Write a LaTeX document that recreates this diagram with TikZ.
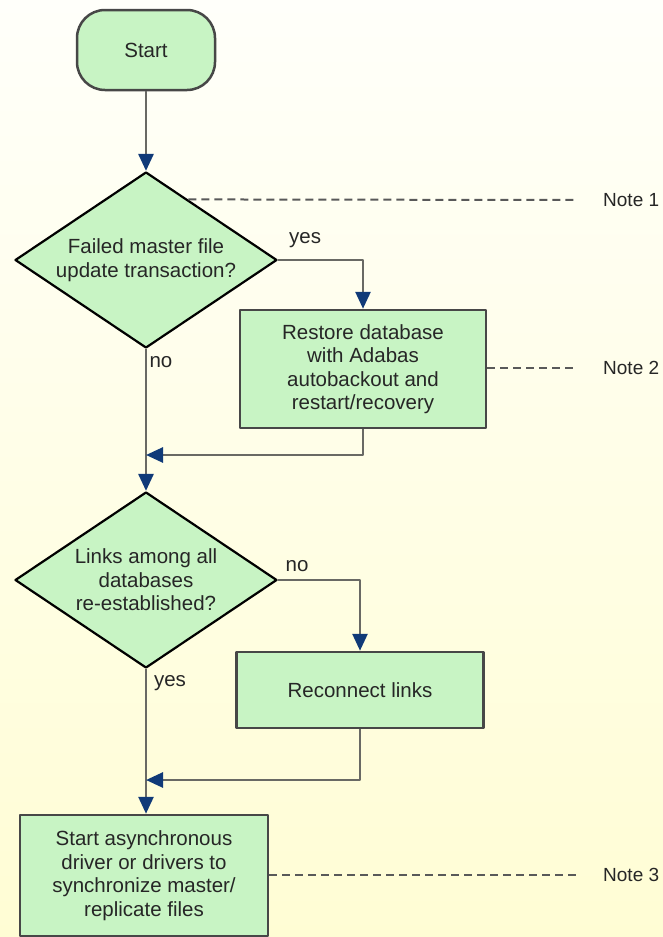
\documentclass[tikz,border=0pt]{standalone}
\usepackage{fontspec}
\setmainfont{Liberation Sans}
\usetikzlibrary{shapes.geometric,arrows.meta,calc}
\definecolor{boxgreen}{RGB}{200,244,196}
\definecolor{tipblue}{RGB}{16,58,120}
\definecolor{linegray}{RGB}{105,105,100}
\definecolor{bgtop}{RGB}{255,255,250}
\definecolor{bgbot}{RGB}{255,253,212}
\begin{document}
\begin{tikzpicture}[x=1pt,y=-1pt,line join=round,font=\fontsize{20.5}{23.5}\selectfont,
	box/.style={draw=black!72,line width=2.5pt,fill=boxgreen,align=center,inner sep=0pt,text=black!85},
	decision/.style={diamond,draw=black,line width=2.2pt,fill=boxgreen,align=center,inner sep=0pt,aspect=1.49,
		minimum width=262pt,minimum height=176pt,text=black!85},
	flow/.style={draw=linegray,line width=2.7pt,-{Triangle[width=15pt,length=17pt,color=tipblue]}},
	notelink/.style={draw=black!65,line width=2pt,dash pattern=on 8pt off 5pt},
	lbl/.style={inner sep=0pt,text=black!85},
	note/.style={inner sep=3pt,anchor=west,text=black!85,font=\fontsize{19}{22}\selectfont}]
	\def\W{663} \def\H{937} \def\xm{146} \def\xn{600}
	\useasboundingbox (0,0) rectangle (\W,\H);
	\shade[top color=bgtop,bottom color=bgbot] (0,0) rectangle (\W,\H);
	% main column
	\node[box,rounded corners=28pt,minimum width=138pt,minimum height=80pt] (start) at (\xm,50) {Start};
	\node[decision] (dec1) at (\xm,260) {Failed master file\\update transaction?};
	\node[box,minimum width=246pt,minimum height=118pt] (restore) at (363,369)
		{Restore database\\ with Adabas\\autobackout and\\restart/recovery};
	\node[decision] (dec2) at (\xm,580) {Links among all\\databases\\re-established?};
	\node[box,minimum width=247pt,minimum height=76pt] (reconnect) at (360,690) {Reconnect links};
	\node[box,minimum width=248pt,minimum height=121pt] (sync) at (144,875.5)
		{Start asynchronous\\driver or drivers to\\synchronize master/\\replicate files};
	\coordinate (j1) at (\xm,455);
	\coordinate (j2) at (\xm,780);
	% notes
	\node[note] (n1) at (\xn,200) {Note 1};
	\node[note] (n2) at (\xn,368) {Note 2};
	\node[note] (n3) at (\xn,875) {Note 3};
	% connectors
	\draw[flow] (start) -- (dec1);
	\draw[flow] (dec1.south) -- (dec2.north);
	\draw[flow] (dec1.east) -| (restore.north);
	\draw[flow] (restore.south) |- (j1);
	\draw[flow] (dec2.south) -- (dec2.south |- sync.north);
	\draw[flow] (dec2.east) -| (reconnect.north);
	\draw[flow] (reconnect.south) |- (j2);
	\node[lbl] (yes1) at ($(dec1.east)+(27,-20)$) {yes};
	\node[lbl] (no1) at ($(dec1.south)+(15,13)$) {no};
	\node[lbl] (no2) at ($(dec2.east)+(19,-14)$) {no};
	\node[lbl] (yes2) at ($(dec2.south)+(24,14)$) {yes};
	\draw[notelink] ($(dec1.north)!0.32!(dec1.east)$) -- ([xshift=-23pt]n1.west);
	\draw[notelink] (restore.east |- n2.west) -- ([xshift=-23pt]n2.west);
	\draw[notelink] (sync.east |- n3.west) -- ([xshift=-23pt]n3.west);
\end{tikzpicture}
\end{document}
